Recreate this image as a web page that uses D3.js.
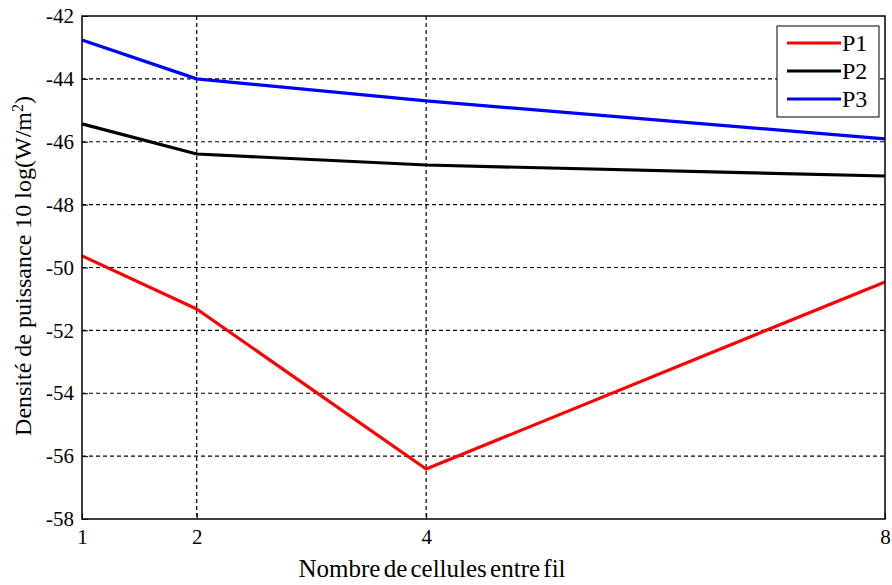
<!DOCTYPE html>
<html>
<head>
<meta charset="utf-8">
<script src="https://cdn.jsdelivr.net/npm/d3@7"></script>
<style>
  body { margin: 0; background: #fff; }
  svg text { font-family: "Liberation Serif", "DejaVu Serif", "Times New Roman", Times, serif !important; }
</style>
</head>
<body>
<svg id="chart" width="892" height="585"></svg>
<script>
// Power density vs number of cells between wires

const cells = [1, 2, 4, 8];
const p1 = [-49.63, -51.32, -56.41, -50.46];
const p2 = [-45.43, -46.39, -46.74, -47.09];
const p3 = [-42.76, -44.0, -44.70, -45.91];
const yTicks = [-58, -56, -54, -52, -50, -48, -46, -44, -42];
const seriesNames = ["P1", "P2", "P3"];
const seriesColors = ["#ff0000", "#000000", "#0000ff"];

const margin = { top: 16, right: 7, bottom: 66, left: 82 };
const width = 892 - margin.left - margin.right;
const height = 585 - margin.top - margin.bottom;

const svg = d3.select("#chart");
const g = svg.append("g").attr("transform", `translate(${margin.left},${margin.top})`);

const xScale = d3.scaleLinear().domain([1, 8]).range([0, width]);
const yScale = d3.scaleLinear().domain([-58, -42]).range([height, 0]);

// grid
g.append("g")
  .selectAll("line")
  .data(yTicks.slice(1, -1))
  .enter()
  .append("line")
  .attr("x1", 0).attr("x2", width)
  .attr("y1", d => yScale(d)).attr("y2", d => yScale(d))
  .attr("stroke", "#000").attr("stroke-width", 1.2)
  .attr("stroke-dasharray", "4,3");

g.append("g")
  .selectAll("line")
  .data(cells.slice(1, -1))
  .enter()
  .append("line")
  .attr("x1", d => xScale(d)).attr("x2", d => xScale(d))
  .attr("y1", 0).attr("y2", height)
  .attr("stroke", "#000").attr("stroke-width", 1.2)
  .attr("stroke-dasharray", "4,3");

// axes
const xAxis = d3.axisBottom(xScale).tickValues(cells).tickFormat(d3.format("d"))
  .tickSizeInner(-6).tickSizeOuter(0).tickPadding(10);
const yAxis = d3.axisLeft(yScale).tickValues(yTicks).tickFormat(d => d)
  .tickSizeInner(-6).tickSizeOuter(0).tickPadding(8);

g.append("g")
  .attr("class", "x-axis")
  .attr("transform", `translate(0,${height})`)
  .call(xAxis)
  .call(a => a.select(".domain").remove())
  .selectAll("text")
  .style("font-size", "21px")
  .attr("fill", "#000");

g.append("g")
  .attr("class", "y-axis")
  .call(yAxis)
  .call(a => a.select(".domain").remove())
  .selectAll("text")
  .style("font-size", "21px")
  .attr("fill", "#000");

// lines
const line = d3.line()
  .x((d, i) => xScale(cells[i]))
  .y(d => yScale(d));

[p1, p2, p3].forEach((vals, i) => {
  g.append("path")
    .datum(vals)
    .attr("d", line)
    .attr("fill", "none")
    .attr("stroke", seriesColors[i])
    .attr("stroke-width", 3.2)
    .attr("stroke-linejoin", "round");
});

// frame
g.append("rect")
  .attr("x", 0).attr("y", 0)
  .attr("width", width).attr("height", height)
  .attr("fill", "none")
  .attr("stroke", "#000")
  .attr("stroke-width", 1.5);

// legend
const legend = g.append("g")
  .attr("class", "legend")
  .attr("transform", `translate(${width - 108}, 10)`);

legend.append("rect")
  .attr("width", 102).attr("height", 91)
  .attr("fill", "#fff").attr("stroke", "#000").attr("stroke-width", 1);

const items = legend.selectAll(".legend-item")
  .data(seriesNames)
  .enter()
  .append("g")
  .attr("class", "legend-item")
  .attr("transform", (d, i) => `translate(0, ${17 + i * 28})`);

items.append("line")
  .attr("x1", 10).attr("x2", 64)
  .attr("y1", 0).attr("y2", 0)
  .attr("stroke", (d, i) => seriesColors[i])
  .attr("stroke-width", 3);

items.append("text")
  .attr("x", 65)
  .attr("y", 0)
  .attr("dy", "0.35em")
  .style("font-size", "24px")
  .text(d => d);

// axis labels
svg.append("text")
  .attr("x", 432)
  .attr("y", 577)
  .style("text-anchor", "middle")
  .style("font-size", "25px")
  .style("word-spacing", "-3px")
  .text("Nombre de cellules entre fil");

const ylab = svg.append("text")
  .attr("transform", `translate(31, 266) rotate(-90)`)
  .style("text-anchor", "middle")
  .style("font-size", "24px");
ylab.append("tspan").text("Densité de puissance 10 log(W/m");
ylab.append("tspan").attr("baseline-shift", "super").style("font-size", "16px").text("2");
ylab.append("tspan").text(")");
</script>
</body>
</html>
